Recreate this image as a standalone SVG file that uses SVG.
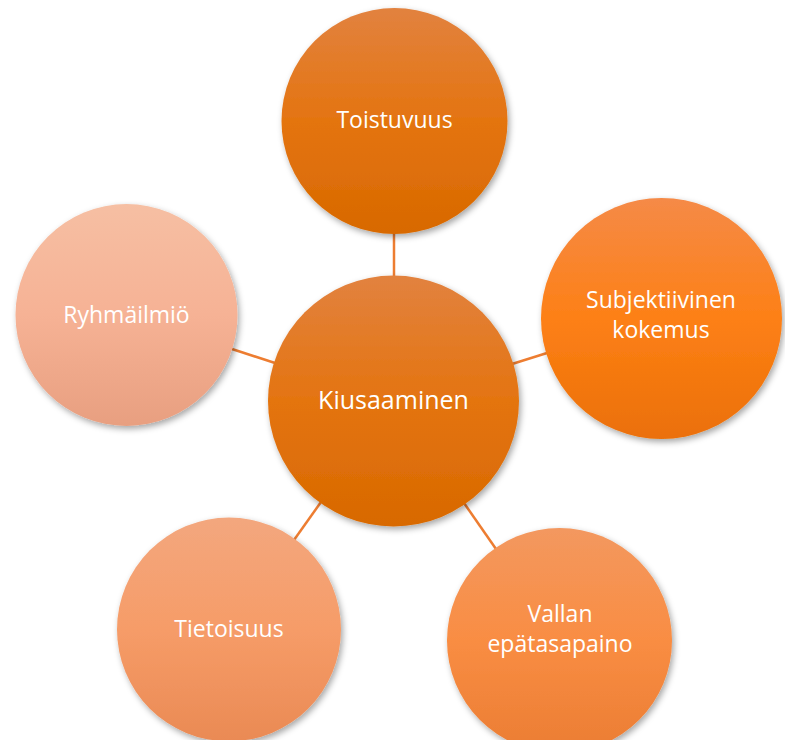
<svg xmlns="http://www.w3.org/2000/svg" width="785" height="740" viewBox="0 0 785 740">
  <defs>
    <filter id="sh" x="-20%" y="-20%" width="150%" height="150%">
      <feDropShadow dx="2" dy="3" stdDeviation="3" flood-color="#000" flood-opacity="0.35"/>
    </filter>
    <linearGradient id="gDark" x1="0" y1="0" x2="0" y2="1">
      <stop offset="0" stop-color="#E2823F"/>
      <stop offset="0.5" stop-color="#E47410"/>
      <stop offset="1" stop-color="#D86900"/>
    </linearGradient>
    <linearGradient id="gRight" x1="0" y1="0" x2="0" y2="1">
      <stop offset="0" stop-color="#F58A47"/>
      <stop offset="0.5" stop-color="#FD8016"/>
      <stop offset="1" stop-color="#EB7007"/>
    </linearGradient>
    <linearGradient id="gLeft" x1="0" y1="0" x2="0" y2="1">
      <stop offset="0" stop-color="#F6BFA3"/>
      <stop offset="0.5" stop-color="#F6B295"/>
      <stop offset="1" stop-color="#E89F80"/>
    </linearGradient>
    <linearGradient id="gBL" x1="0" y1="0" x2="0" y2="1">
      <stop offset="0" stop-color="#F3A77E"/>
      <stop offset="0.5" stop-color="#F69C68"/>
      <stop offset="1" stop-color="#EA8A54"/>
    </linearGradient>
    <linearGradient id="gBR" x1="0" y1="0" x2="0" y2="1">
      <stop offset="0" stop-color="#F3985F"/>
      <stop offset="0.5" stop-color="#F98D43"/>
      <stop offset="1" stop-color="#EB7D33"/>
    </linearGradient>
  </defs>
  <style>
    .conn { stroke: #ED7D31; stroke-width: 2.5; fill: none; }
    .node circle { filter: url(#sh); }
    .lbl { font-family: "Open Sans", "Liberation Sans", sans-serif; font-size: 23px; fill: #FFFFFF; text-anchor: middle; }
    .big { font-size: 25px; }
  </style>
  <g id="connectors">
    <line class="conn" x1="394" y1="233" x2="394" y2="277"/>
    <line class="conn" x1="232" y1="349" x2="275" y2="363"/>
    <line class="conn" x1="512" y1="364" x2="547" y2="353"/>
    <line class="conn" x1="321" y1="502" x2="294" y2="540"/>
    <line class="conn" x1="464" y1="503" x2="496" y2="549"/>
  </g>
  <g id="node-toistuvuus" class="node">
    <circle cx="394.5" cy="121" r="113" fill="url(#gDark)"/>
    <text class="lbl" x="394.5" y="128">Toistuvuus</text>
  </g>
  <g id="node-subjektiivinen" class="node">
    <circle cx="661.5" cy="318.5" r="120.5" fill="url(#gRight)"/>
    <text class="lbl" x="661" y="308">Subjektiivinen</text>
    <text class="lbl" x="661" y="338">kokemus</text>
  </g>
  <g id="node-ryhmailmio" class="node">
    <circle cx="126.5" cy="315" r="111" fill="url(#gLeft)"/>
    <text class="lbl" x="126.5" y="323">Ryhmäilmiö</text>
  </g>
  <g id="node-tietoisuus" class="node">
    <circle cx="229" cy="629.5" r="112" fill="url(#gBL)"/>
    <text class="lbl" x="229" y="637">Tietoisuus</text>
  </g>
  <g id="node-vallan" class="node">
    <circle cx="559.5" cy="640.5" r="112.5" fill="url(#gBR)"/>
    <text class="lbl" x="560" y="622">Vallan</text>
    <text class="lbl" x="560" y="652">epätasapaino</text>
  </g>
  <g id="node-kiusaaminen" class="node">
    <circle cx="393.5" cy="401" r="125.5" fill="url(#gDark)"/>
    <text class="lbl big" x="393.5" y="409">Kiusaaminen</text>
  </g>
</svg>
